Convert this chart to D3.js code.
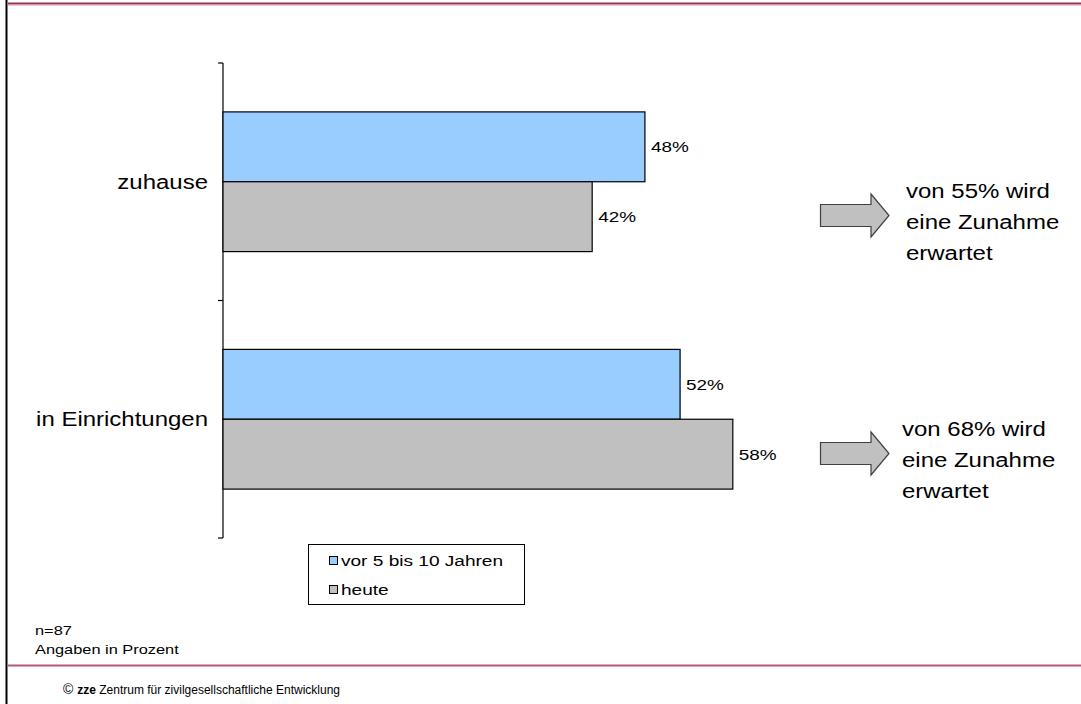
<!DOCTYPE html>
<html><head><meta charset="utf-8">
<script src="https://cdn.jsdelivr.net/npm/d3@7"></script>
<style>body{margin:0;background:#fff}svg{display:block;font-family:"Liberation Sans",Arial,sans-serif}</style>
</head><body>
<svg id="c" width="1081" height="704"></svg>
<script>
const categories = ["zuhause", "in Einrichtungen"];
const seriesNames = ["vor 5 bis 10 Jahren", "heute"];
const vorJahren = [48, 52];
const heute = [42, 58];
const arrowNotes = [["von 55% wird", "eine Zunahme", "erwartet"], ["von 68% wird", "eine Zunahme", "erwartet"]];
const noteLines = ["n=87", "Angaben in Prozent"];
const footer = "Zentrum für zivilgesellschaftliche Entwicklung";

const colors = ["#99ccff", "#c0c0c0"];
const SX = 1.23; // horizontal stretch of the original export
const svg = d3.select("#c");

function stext(parent, x, y, txt, size, anchor, sx) {
  const g = parent.append("g").attr("transform", `translate(${x},${y}) scale(${sx},1)`);
  return g.append("text").attr("x",0).attr("y",0).attr("dy","0.35em")
    .attr("text-anchor", anchor || "start").attr("font-size", size).attr("fill","#000").text(txt);
}

// frame lines
svg.append("line").attr("x1",6.5).attr("x2",6.5).attr("y1",0).attr("y2",704).attr("stroke","#000").attr("stroke-width",2);
svg.append("line").attr("x1",8).attr("x2",1081).attr("y1",3.5).attr("y2",3.5).attr("stroke","#993355").attr("stroke-width",2);
svg.append("line").attr("x1",8).attr("x2",1081).attr("y1",5.5).attr("y2",5.5).attr("stroke","#ecc8d4").attr("stroke-width",1);
svg.append("line").attr("x1",8).attr("x2",1081).attr("y1",665.5).attr("y2",665.5).attr("stroke","#b25876").attr("stroke-width",2);

const x = d3.scaleLinear().domain([0,100]).range([223,1102]);
const y = d3.scaleBand().domain(categories).range([63,538]);
const inner = d3.scaleBand().domain(seriesNames).range([0, y.bandwidth()]).paddingInner(0).paddingOuter(0.7);

// axis
const ax = svg.append("g").attr("transform","translate(223,0)");
ax.append("line").attr("x1",0).attr("x2",0).attr("y1",y.range()[0]).attr("y2",y.range()[1]).attr("stroke","#000").attr("stroke-width",1.2);
const tickYs = [y.range()[0], y(categories[1]), y.range()[1]];
ax.selectAll(".tk").data(tickYs).join("line").attr("x1",-5).attr("x2",0).attr("y1",d=>d).attr("y2",d=>d).attr("stroke","#000").attr("stroke-width",1.2);

categories.forEach(c => stext(svg, 208, y(c)+y.bandwidth()/2, c, 19.5, "end", SX));

const series = [vorJahren, heute];
series.forEach((vals,si)=>{
  const g = svg.append("g");
  g.selectAll("rect").data(vals).join("rect")
    .attr("x",x(0)).attr("y",(d,i)=>y(categories[i])+inner(seriesNames[si]))
    .attr("width",d=>x(d)-x(0)).attr("height",inner.bandwidth())
    .attr("fill",colors[si]).attr("stroke","#000").attr("stroke-width",1.2);
  vals.forEach((d,i)=> stext(g, x(d)+6, y(categories[i])+inner(seriesNames[si])+inner.bandwidth()/2, d+"%", 15.5, "start", 1.22));
});

// arrows
const arrowY = [215.5, 453.5];
const arrowTextX = [906, 902];
const arrowTextY = [191, 429];
arrowNotes.forEach((lines,i)=>{
  const cy = arrowY[i], x0 = 820.5, xb = 871, xt = 889;
  const pts = [[x0,cy-11],[xb,cy-11],[xb,cy-21.5],[xt,cy],[xb,cy+21.5],[xb,cy+11],[x0,cy+11]];
  svg.append("path").attr("d", d3.line()(pts)+"Z").attr("fill","#c0c0c0").attr("stroke","#404040").attr("stroke-width",1.2);
  lines.forEach((t,j)=> stext(svg, arrowTextX[i], arrowTextY[i]+j*31, t, 19.5, "start", SX));
});

// legend
const lg = svg.append("g");
lg.append("rect").attr("x",308.5).attr("y",544.5).attr("width",216).attr("height",60).attr("fill","#fff").attr("stroke","#000").attr("stroke-width",1);
seriesNames.forEach((s,i)=>{
  const yy = 561 + i*29;
  lg.append("rect").attr("x",329.5).attr("y",yy-4.5).attr("width",8).attr("height",8).attr("fill",colors[i]).attr("stroke","#000").attr("stroke-width",1);
  stext(lg, 341, yy, s, 15.5, "start", SX);
});

noteLines.forEach((t,i)=> stext(svg, 35, 630+i*19, t, 13, "start", 1.26));

const ft = svg.append("text").attr("x",63).attr("y",690).attr("dy","0.35em").attr("font-size",12).attr("fill","#000");
ft.append("tspan").attr("font-size",14).text("© ");
ft.append("tspan").attr("font-weight","bold").text("zze ");
ft.append("tspan").text(footer);
</script>
</body></html>
